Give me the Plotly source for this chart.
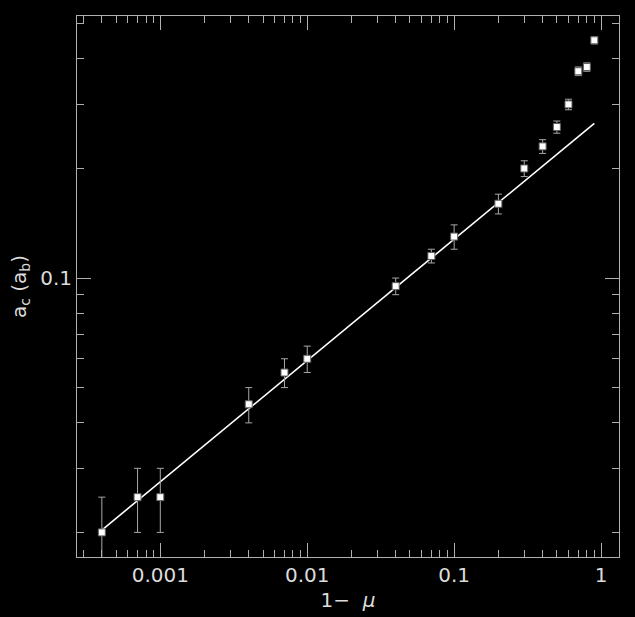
import plotly.graph_objects as go

# Data
x_vals = [0.0004, 0.0007, 0.001, 0.004, 0.007, 0.01, 0.04, 0.07, 0.1, 0.2, 0.3, 0.4, 0.5, 0.6, 0.7, 0.8, 0.9]
y_vals = [0.020, 0.025, 0.025, 0.045, 0.055, 0.060, 0.095, 0.115, 0.130, 0.160, 0.200, 0.230, 0.260, 0.300, 0.370, 0.380, 0.450]
y_err = [0.005, 0.005, 0.005, 0.005, 0.005, 0.005, 0.005, 0.005, 0.010, 0.010, 0.010, 0.010, 0.010, 0.010, 0.010, 0.010, 0.010]

fit_x = [0.0004, 0.9]
fit_y = [0.0203, 0.266]

x_tickvals = [0.001, 0.01, 0.1, 1]
x_ticktext = ["0.001", "0.01", "0.1", "1"]
x_minor = [0.0003, 0.0004, 0.0005, 0.0006, 0.0007, 0.0008, 0.0009,
           0.002, 0.003, 0.004, 0.005, 0.006, 0.007, 0.008, 0.009,
           0.02, 0.03, 0.04, 0.05, 0.06, 0.07, 0.08, 0.09,
           0.2, 0.3, 0.4, 0.5, 0.6, 0.7, 0.8, 0.9]
y_tickvals = [0.1]
y_ticktext = ["0.1"]
y_minor = [0.02, 0.03, 0.04, 0.05, 0.06, 0.07, 0.08, 0.09, 0.2, 0.3, 0.4, 0.5]

AX = "#b0b0b0"
TXT = "#dcdcdc"
FONT = "DejaVu Sans"

fig = go.Figure()
fig.add_trace(go.Scatter(
    x=fit_x, y=fit_y, mode="lines",
    line=dict(color="white", width=1.6), showlegend=False, hoverinfo="skip"))
fig.add_trace(go.Scatter(
    x=x_vals, y=y_vals, mode="markers",
    error_y=dict(type="data", array=y_err, color="#a8a8a8", thickness=1, width=3.5),
    marker=dict(symbol="square", size=7, color="white", line=dict(color="#606060", width=1)),
    showlegend=False))

axis_common = dict(
    type="log", showgrid=False, zeroline=False,
    showline=True, linecolor=AX, linewidth=1, mirror="ticks",
    ticks="inside", ticklen=14, tickcolor=AX, tickwidth=1,
    tickfont=dict(family=FONT, size=20, color=TXT),
    tickmode="array",
)

fig.update_xaxes(
    **axis_common,
    range=[-3.567, 0.122],
    tickvals=x_tickvals, ticktext=x_ticktext,
    minor=dict(tickmode="array", tickvals=x_minor, ticks="inside", ticklen=7, tickcolor=AX, tickwidth=1, showgrid=False),
    title=dict(text="1\u2212  <i>\u03bc</i>", font=dict(family=FONT, size=20, color=TXT), standoff=6),
)
fig.update_yaxes(
    **axis_common,
    range=[-1.7665, -0.280],
    tickvals=y_tickvals, ticktext=y_ticktext,
    minor=dict(tickmode="array", tickvals=y_minor, ticks="inside", ticklen=7, tickcolor=AX, tickwidth=1, showgrid=False),
    title=dict(text="a<sub>c</sub> (a<sub>b</sub>)", font=dict(family=FONT, size=20, color=TXT), standoff=8),
)

fig.update_layout(
    width=635, height=617,
    margin=dict(l=77, r=16, t=16, b=60, autoexpand=False),
    paper_bgcolor="black", plot_bgcolor="black",
)

fig.write_html("out.html", config={"displayModeBar": False})

# remove the default page margin so the figure sits at the window's origin
with open("out.html", "r", encoding="utf-8") as f:
    html = f.read()
html = html.replace("<head>", "<head><style>html,body{margin:0;padding:0;background:#000;overflow:hidden;}</style>", 1)
with open("out.html", "w", encoding="utf-8") as f:
    f.write(html)
